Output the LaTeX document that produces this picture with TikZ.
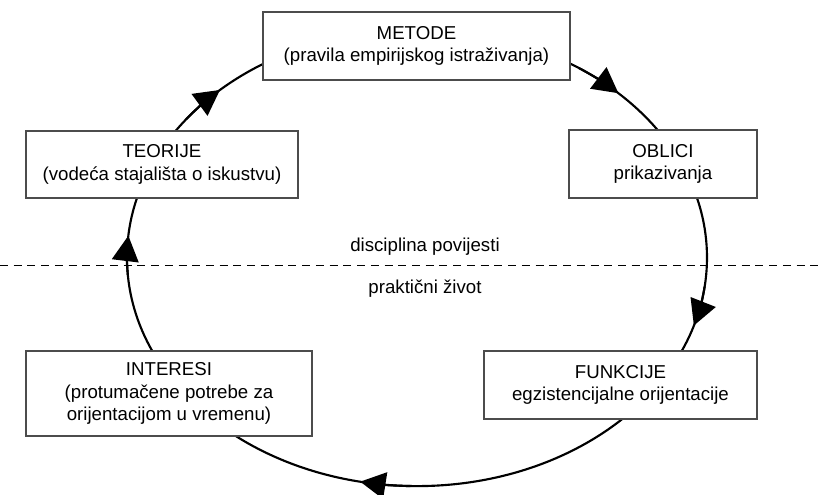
\documentclass[tikz,border=0pt]{standalone}
\usepackage{fontspec}
\setmainfont{Liberation Sans}
\usetikzlibrary{arrows.meta}

\tikzset{
  box/.style={draw=black!70, fill=white, line width=0.9pt, inner sep=0pt, align=center, font=\fontsize{14}{17}\selectfont},
  cycleline/.style={line width=1.6pt},
  flowtip/.style={-{Triangle[length=19pt,width=20pt]}, line width=1.6pt},
  divider/.style={dash pattern=on 6pt off 4.3pt, line width=1.35pt},
  sidelabel/.style={font=\fontsize{14}{17}\selectfont, inner sep=0pt, anchor=base}
}

\begin{document}
\begin{tikzpicture}[x=0.75pt,y=0.75pt,yscale=-1,xscale=1]
        \useasboundingbox (0,0) rectangle (819,494);
        \coordinate (ctr) at (417,257.6);
        % dividing line
        \draw [divider] (0,265.5) -- (819,265.5);
        \node [sidelabel] (discipline) at (425,251) {disciplina povijesti};
        \node [sidelabel] (practice) at (425,293) {praktični život};
        % cycle
        \draw [cycleline] (ctr) ellipse [x radius=290, y radius=228.5];
        \foreach \s [evaluate=\s as \b using \s-10] in {185.5,227.2,314,377.3,461.3}
            \draw [flowtip] (ctr) ++(\b:290 and 228.5) arc [start angle=\b, end angle=\s, x radius=290, y radius=228.5];
        % boxes
        \node [box, minimum width=230.25pt, minimum height=51pt] (metode) at (416.5,46) {METODE\\(pravila empirijskog istraživanja)};
        \node [box, minimum width=141pt, minimum height=51pt] (oblici) at (663,164) {OBLICI\\prikazivanja};
        \node [box, minimum width=204.75pt, minimum height=51pt] (funkcije) at (620.5,385) {FUNKCIJE\\egzistencijalne orijentacije};
        \node [box, minimum width=214.5pt, minimum height=63.75pt] (interesi) at (169,393.5) {INTERESI\\(protumačene potrebe za\\orijentacijom u vremenu)};
        \node [box, minimum width=204pt, minimum height=50.25pt] (teorije) at (162,164.5) {TEORIJE\\(vodeća stajališta o iskustvu)};
\end{tikzpicture}
\end{document}
